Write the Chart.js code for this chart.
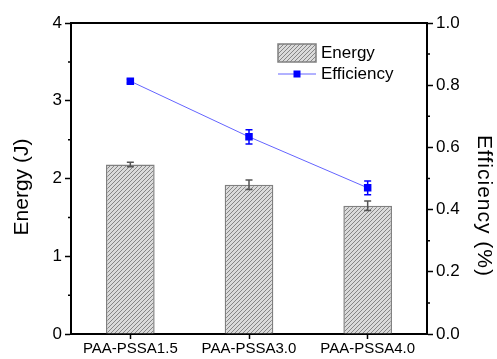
<!DOCTYPE html>
<html>
<head>
<meta charset="utf-8">
<script src="https://cdn.jsdelivr.net/npm/chart.js@4/dist/chart.umd.min.js"></script>
<style>
html,body{margin:0;padding:0;background:#fff;}
#wrap{width:497px;height:359px;position:relative;}
</style>
</head>
<body>
<div id="wrap"><canvas id="c" width="497" height="359"></canvas></div>
<script>
const categories = ["PAA-PSSA1.5", "PAA-PSSA3.0", "PAA-PSSA4.0"];
const energy = [2.18, 1.92, 1.65];
const energyErr = [0.03, 0.06, 0.06];
const efficiency = [0.813, 0.634, 0.47];
const efficiencyErr = [0.006, 0.023, 0.022];
const energyTicks = [0, 1, 2, 3, 4];
const efficiencyTicks = [0, 0.2, 0.4, 0.6, 0.8, 1.0];
const energyTitle = "Energy (J)";
const efficiencyTitle = "Efficiency (%)";

const FONT = "'Liberation Sans', Arial, sans-serif";

function hatch() {
  const s = 4;
  const p = document.createElement('canvas');
  p.width = s; p.height = s;
  const g = p.getContext('2d');
  g.fillStyle = '#dadada';
  g.fillRect(0, 0, s, s);
  g.strokeStyle = '#858585';
  g.lineWidth = 1;
  g.beginPath();
  g.moveTo(-1, s + 1); g.lineTo(s + 1, -1);
  g.moveTo(-1 - s, s + 1); g.lineTo(1, -1);
  g.moveTo(s - 1, 2 * s + 1); g.lineTo(2 * s + 1, s - 1);
  g.stroke();
  return g.createPattern(p, 'repeat');
}
const hatchPattern = hatch();

const extras = {
  id: 'extras',
  afterDatasetsDraw(chart) {
    const ctx = chart.ctx;
    chart.data.datasets.forEach((ds, di) => {
      const meta = chart.getDatasetMeta(di);
      const sc = chart.scales[ds.yAxisID];
      ds.errors.forEach((e, i) => {
        const el = meta.data[i];
        const v = ds.data[i];
        const y1 = sc.getPixelForValue(v + e), y2 = sc.getPixelForValue(v - e);
        ctx.save();
        ctx.strokeStyle = ds.errColor;
        ctx.lineWidth = 1.5;
        ctx.beginPath();
        ctx.moveTo(el.x, y1); ctx.lineTo(el.x, y2);
        ctx.moveTo(el.x - 3.5, y1); ctx.lineTo(el.x + 3.5, y1);
        ctx.moveTo(el.x - 3.5, y2); ctx.lineTo(el.x + 3.5, y2);
        ctx.stroke();
        ctx.restore();
      });
    });
  },
  afterDraw(chart) {
    const ctx = chart.ctx;
    const a = chart.chartArea;
    const yl = chart.scales.y, yr = chart.scales.y2;
    ctx.save();
    ctx.strokeStyle = '#000';
    ctx.lineWidth = 2;
    ctx.beginPath();
    ctx.moveTo(a.left, a.top); ctx.lineTo(a.right, a.top);
    ctx.stroke();
    ctx.lineWidth = 1.5;
    ctx.beginPath();
    for (let i = 0; i < energyTicks.length - 1; i++) {
      const y = yl.getPixelForValue((energyTicks[i] + energyTicks[i + 1]) / 2);
      ctx.moveTo(a.left - 3, y); ctx.lineTo(a.left, y);
    }
    for (let i = 0; i < efficiencyTicks.length - 1; i++) {
      const y = yr.getPixelForValue((efficiencyTicks[i] + efficiencyTicks[i + 1]) / 2);
      ctx.moveTo(a.right, y); ctx.lineTo(a.right + 3, y);
    }
    ctx.stroke();
    ctx.fillStyle = '#000';
    ctx.font = '21px ' + FONT;
    ctx.textAlign = 'center';
    ctx.textBaseline = 'middle';
    ctx.save();
    ctx.translate(22, 187);
    ctx.rotate(-Math.PI / 2);
    ctx.fillText(energyTitle, 0, 0);
    ctx.restore();
    ctx.save();
    ctx.translate(484, 206);
    ctx.rotate(Math.PI / 2);
    ctx.letterSpacing = '1px';
    ctx.fillText(efficiencyTitle, 0, 0);
    ctx.restore();
    const d0 = chart.data.datasets[0], d1 = chart.data.datasets[1];
    ctx.fillStyle = hatchPattern;
    ctx.fillRect(278, 44, 38, 18);
    ctx.strokeStyle = '#808080';
    ctx.lineWidth = 1.5;
    ctx.strokeRect(278, 44, 38, 18);
    ctx.strokeStyle = d1.borderColor;
    ctx.lineWidth = 1;
    ctx.beginPath();
    ctx.moveTo(278, 74); ctx.lineTo(316, 74);
    ctx.stroke();
    ctx.fillStyle = d1.pointBackgroundColor;
    ctx.fillRect(293.5, 70.5, 7, 7);
    ctx.fillStyle = '#000';
    ctx.font = '17px ' + FONT;
    ctx.textAlign = 'left';
    ctx.fillText(d0.label, 321, 53);
    ctx.fillText(d1.label, 321, 74);
    ctx.restore();
  }
};

new Chart(document.getElementById('c'), {
  data: {
    labels: categories,
    datasets: [
      {
        type: 'bar', label: 'Energy', data: energy, errors: energyErr, errColor: '#555',
        yAxisID: 'y', backgroundColor: hatchPattern, borderColor: '#808080', borderWidth: 1.5,
        barPercentage: 0.41, categoryPercentage: 1, order: 2
      },
      {
        type: 'line', label: 'Efficiency', data: efficiency, errors: efficiencyErr, errColor: '#0000ff',
        yAxisID: 'y2', borderColor: '#6464ff', borderWidth: 1, pointStyle: 'rect', pointRadius: 5.3,
        pointBackgroundColor: '#0000ff', pointBorderColor: '#0000ff', pointBorderWidth: 0, order: 1,
        tension: 0
      }
    ]
  },
  options: {
    responsive: false, animation: false, devicePixelRatio: 1,
    layout: { padding: { top: 23, left: 0, right: 0, bottom: 0 } },
    plugins: { legend: { display: false }, tooltip: { enabled: false } },
    scales: {
      x: {
        offset: true,
        grid: { offset: false, drawOnChartArea: false, tickLength: 5, tickWidth: 1.5, color: '#000' },
        border: { color: '#000', width: 2 },
        ticks: { color: '#000', font: { family: FONT, size: 15 }, padding: 1, maxRotation: 0 },
        afterFit(s) { s.height = 25; }
      },
      y: {
        position: 'left', min: 0, max: 4,
        afterBuildTicks(s) { s.ticks = energyTicks.map(v => ({ value: v })); },
        grid: { drawOnChartArea: false, tickLength: 6, tickWidth: 1.5, color: '#000' },
        border: { color: '#000', width: 2 },
        ticks: { color: '#000', font: { family: FONT, size: 17 }, padding: 3 },
        afterFit(s) { s.width = 71; }
      },
      y2: {
        position: 'right', min: 0, max: 1,
        afterBuildTicks(s) { s.ticks = efficiencyTicks.map(v => ({ value: v })); },
        grid: { drawOnChartArea: false, tickLength: 6, tickWidth: 1.5, color: '#000' },
        border: { color: '#000', width: 2 },
        ticks: { color: '#000', font: { family: FONT, size: 17 }, padding: 3, callback: v => v.toFixed(1) },
        afterFit(s) { s.width = 70; }
      }
    }
  },
  plugins: [extras]
});
</script>
</body>
</html>
